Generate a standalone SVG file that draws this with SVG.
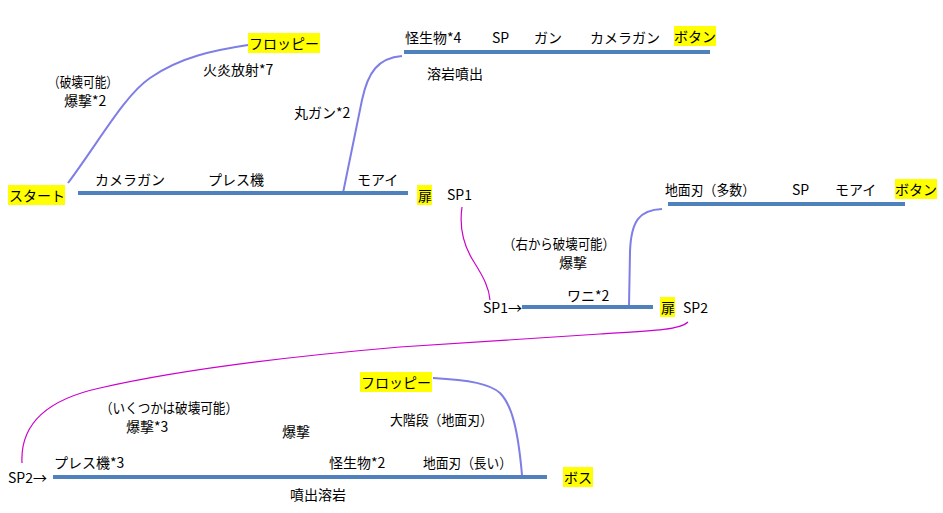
<svg xmlns="http://www.w3.org/2000/svg" width="943" height="513" viewBox="0 0 943 513">
<style>
text{font-family:"Noto Sans CJK JP","Noto Sans",sans-serif;font-size:14px;fill:#000}
.bar{stroke:#4F81BD;stroke-width:4;fill:none}
.hl{fill:#FFFF00}
.pc{stroke:#7E7EE6;stroke-width:2;fill:none}
.mc{stroke:#CC00CC;stroke-width:1.2;fill:none}
</style>
<rect width="943" height="513" fill="#fff"/>
<g id="connectors">
<path class="pc" d="M68,183 C100,140 125,95 150,78 C180,57 215,50 248,45"/>
<path class="pc" d="M343,193 L362,100 C368,72 378,58 402,56"/>
<path class="mc" d="M462,207 C459,228 463,245 474,262 C484,278 489,288 490,300"/>
<path class="pc" d="M629,306 L630,252 C631,220 640,210 662,209"/>
<path class="mc" d="M22,463 C20,425 45,400 100,388 C170,372 260,359 400,347 L600,334 C650,331 680,330 688,322"/>
<path class="pc" d="M433,378 C470,380 490,384 500,393 C512,405 518,430 522,475"/>
</g>
<g id="stage1">
<line class="bar" x1="78" y1="193" x2="408" y2="193"/>
<rect class="hl" x="8" y="185" width="57" height="20"/>
<text x="9" y="201">スタート</text>
<text x="95" y="185">カメラガン</text>
<text x="208" y="185">プレス機</text>
<text x="357" y="185">モアイ</text>
<rect class="hl" x="417" y="185" width="15" height="20"/>
<text x="418" y="201">扉</text>
<text x="447" y="200">SP1</text>
</g>
<g id="floppy1">
<rect class="hl" x="248" y="33" width="72" height="20"/>
<text x="249" y="49">フロッピー</text>
<text x="203" y="75">火炎放射*7</text>
<text x="48" y="87" textLength="70" lengthAdjust="spacingAndGlyphs">（破壊可能）</text>
<text x="64" y="106">爆撃*2</text>
</g>
<g id="upper">
<text x="294" y="118">丸ガン*2</text>
<line class="bar" x1="404" y1="52" x2="710" y2="52"/>
<text x="405" y="43">怪生物*4</text>
<text x="492" y="43">SP</text>
<text x="534" y="43">ガン</text>
<text x="590" y="43">カメラガン</text>
<rect class="hl" x="674" y="26" width="42" height="20"/>
<text x="674" y="42">ボタン</text>
<text x="427" y="79">溶岩噴出</text>
</g>
<g id="stage2">
<line class="bar" x1="522" y1="307" x2="653" y2="307"/>
<text x="483" y="313">SP1→</text>
<text x="567" y="301">ワニ*2</text>
<text x="503" y="249" textLength="112" lengthAdjust="spacingAndGlyphs">（右から破壊可能）</text>
<text x="559" y="268">爆撃</text>
<rect class="hl" x="660" y="297" width="15" height="20"/>
<text x="661" y="313">扉</text>
<text x="683" y="313">SP2</text>
</g>
<g id="upper2">
<line class="bar" x1="668" y1="204" x2="905" y2="204"/>
<text x="665" y="195" textLength="90" lengthAdjust="spacingAndGlyphs">地面刃（多数）</text>
<text x="792" y="195">SP</text>
<text x="835" y="195">モアイ</text>
<rect class="hl" x="895" y="179" width="42" height="20"/>
<text x="895" y="195">ボタン</text>
</g>
<g id="stage3">
<line class="bar" x1="53" y1="477" x2="547" y2="477"/>
<text x="8" y="483">SP2→</text>
<text x="54" y="468">プレス機*3</text>
<text x="100" y="413" textLength="138" lengthAdjust="spacingAndGlyphs">（いくつかは破壊可能）</text>
<text x="126" y="432">爆撃*3</text>
<text x="282" y="437">爆撃</text>
<text x="329" y="468">怪生物*2</text>
<text x="423" y="468" textLength="89" lengthAdjust="spacingAndGlyphs">地面刃（長い）</text>
<text x="390" y="425" textLength="103" lengthAdjust="spacingAndGlyphs">大階段（地面刃）</text>
<text x="290" y="500">噴出溶岩</text>
<rect class="hl" x="563" y="467" width="30" height="20"/>
<text x="564" y="483">ボス</text>
</g>
<g id="floppy2">
<rect class="hl" x="360" y="372" width="72" height="20"/>
<text x="361" y="388">フロッピー</text>
</g>
</svg>
